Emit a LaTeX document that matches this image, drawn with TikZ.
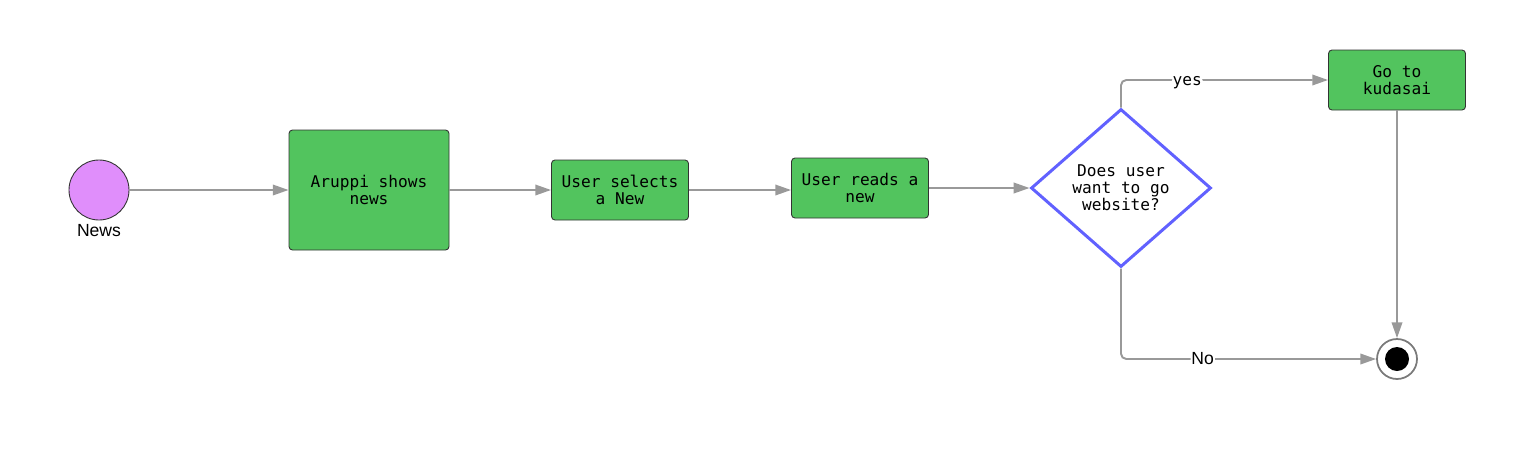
\documentclass[tikz,border=0pt]{standalone}
\usepackage{fontspec}
\setmainfont{Liberation Sans}
\setmonofont{DejaVu Sans Mono}
\usetikzlibrary{shapes.geometric,arrows.meta}
\definecolor{ourgreen}{HTML}{52C45E}
\definecolor{ourpurple}{HTML}{E08EFB}
\definecolor{ourblue}{HTML}{6161FF}
\definecolor{ourgray}{HTML}{999999}
\definecolor{ourdark}{HTML}{333333}

\begin{document}
\begin{tikzpicture}[x=0.02cm,y=-0.02cm]

  \tikzstyle{label}=[font=\fontsize{10}{12}\selectfont]
  \tikzstyle{start}=[draw=ourdark,circle,fill=ourpurple,line width=0.5pt,minimum size=60*0.02cm,inner sep=0]
  \tikzstyle{activity}=[draw=ourdark,fill=ourgreen,rounded corners=2pt,line width=0.5pt,align=center,font=\ttfamily\fontsize{9.2}{9.7}\selectfont,inner sep=0]
  \tikzstyle{decision}=[draw=ourblue,diamond,fill=white,line width=1.7pt,aspect=1.14,align=center,font=\ttfamily\fontsize{9.2}{9.7}\selectfont,inner sep=0,minimum width=180*0.02cm,minimum height=158*0.02cm]
  \tikzstyle{final}=[draw=ourgray!80!black,circle,fill=white,line width=1pt,minimum size=40*0.02cm,inner sep=0]
  \tikzstyle{finaldot}=[circle,fill=black,minimum size=24*0.02cm,inner sep=0]
  \tikzstyle{flow}=[draw=ourgray,line width=1.1pt,rounded corners=3pt,-{Triangle[length=9pt,width=6pt]}]
  \tikzstyle{guard}=[fill=white,inner sep=0.5pt]

  \useasboundingbox (0,0) rectangle (1525,464);

  \path
  (99,190) node[start](news){}
  (99,231) node[label](newslbl){News};

  \path
  (369,190) node[activity,minimum width=160*0.02cm,minimum height=120*0.02cm](shows){Aruppi shows\\news}
  (620,190) node[activity,minimum width=137*0.02cm,minimum height=60*0.02cm](selects){User selects\\a New}
  (860,188) node[activity,minimum width=137*0.02cm,minimum height=60*0.02cm](reads){User reads a\\new};

  \path
  (1121,188) node[decision](ask){Does user\\want to go\\website?};

  \path
  (1397,80) node[activity,minimum width=137*0.02cm,minimum height=60*0.02cm](go){Go to\\kudasai}
  (1397,359) node[final](stop){}
  (1397,359) node[finaldot](stopdot){};

  \draw[flow] (news) -- (shows);
  \draw[flow] (shows.east |- 0,190) -- (selects.west |- 0,190);
  \draw[flow] (selects.east |- 0,190) -- (reads.west |- 0,190);
  \draw[flow] (reads.east |- ask.west) -- (ask.west);

  \draw[flow] (ask.north) |- node[pos=0.66,guard,yshift=-1.5pt,font=\ttfamily\fontsize{9.2}{10}\selectfont]{yes} (go.west);
  \draw[flow] (ask.south) |- node[pos=0.66,guard,label]{No} (stop.west);
  \draw[flow] (go.south) -- (stop.north);
\end{tikzpicture}
\end{document}
